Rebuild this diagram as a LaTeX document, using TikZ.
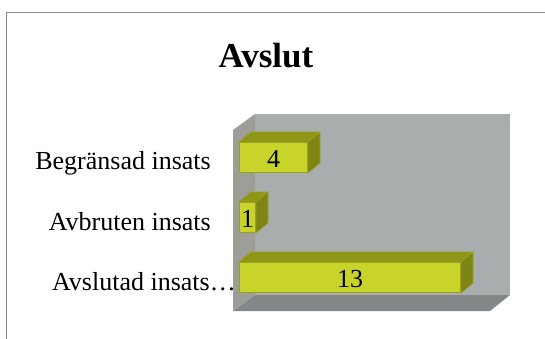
\documentclass[tikz,border=0pt]{standalone}
\usepackage{fontspec}
\setmainfont{Liberation Serif}
\usepackage{tikz}
\usepackage{xcolor}
\usetikzlibrary{calc}

\definecolor{wallgray}{RGB}{168,173,173}
\definecolor{sidegray}{RGB}{158,158,152}
\definecolor{floorgray}{RGB}{132,136,136}
\definecolor{barfront}{RGB}{200,212,42}
\definecolor{bartop}{RGB}{142,150,24}
\definecolor{barside}{RGB}{126,133,20}
\definecolor{baredge}{RGB}{156,160,30}
\definecolor{framegray}{RGB}{136,136,136}

\tikzset{
  catlabel/.style={anchor=base east, inner sep=0pt, font=\fontsize{26}{30}\selectfont},
  barface/.style={draw=baredge, line width=1pt, fill=barfront, minimum height=30pt, inner sep=0pt, anchor=north west},
  barvalue/.style={anchor=base, inner sep=0pt, font=\fontsize{26}{30}\selectfont}
}

\begin{document}
\begin{tikzpicture}[x=1pt, y=-1pt]
  \useasboundingbox (0,0) rectangle (545,338);
  \draw[framegray, line width=1.5pt] (6.5,340) -- (6.5,12.5) -- (547,12.5);

  % title
  \node[anchor=base, inner sep=0pt, font=\fontsize{35}{40}\selectfont\bfseries] (title) at (266,67) {Avslut};

  % walls of the chart
  \coordinate (wallA) at (255,114);
  \coordinate (wallB) at (510,114);
  \coordinate (wallC) at (510,295);
  \coordinate (wallD) at (255,295);
  \coordinate (sideA) at (233,130);
  \coordinate (sideD) at (233,311);
  \coordinate (floorC) at (490,311);

  \fill[wallgray] (wallA) -- (wallB) -- (wallC) -- (wallD) -- cycle;
  \fill[sidegray] (sideA) -- (wallA) -- (wallD) -- (sideD) -- cycle;
  \fill[floorgray] (sideD) -- (wallD) -- (wallC) -- (floorC) -- cycle;

  % bars
  \foreach \nm/\yt/\len/\val in {begr/142/68/4, avbr/202/16/1, avsl/262/221/13} {
    \node[barface, minimum width=\len pt] (bar-\nm) at (239,\yt) {};
    \draw[baredge, line width=0.6pt, fill=bartop] (bar-\nm.north west) -- ++(12,-10) -- ($(bar-\nm.north east)+(12,-10)$) -- (bar-\nm.north east) -- cycle;
    \draw[baredge, line width=0.6pt, fill=barside] (bar-\nm.north east) -- ++(12,-10) -- ($(bar-\nm.south east)+(12,-10)$) -- (bar-\nm.south east) -- cycle;
    \node[barvalue] (val-\nm) at ([yshift=6pt]bar-\nm.south) {\val};
  }

  % category labels
  \node[catlabel] (lab-begr) at (211,169) {Begränsad insats};
  \node[catlabel] (lab-avbr) at (211,230) {Avbruten insats};
  \node[catlabel] (lab-avsl) at (236,290) {Avslutad insats…};
\end{tikzpicture}
\end{document}
